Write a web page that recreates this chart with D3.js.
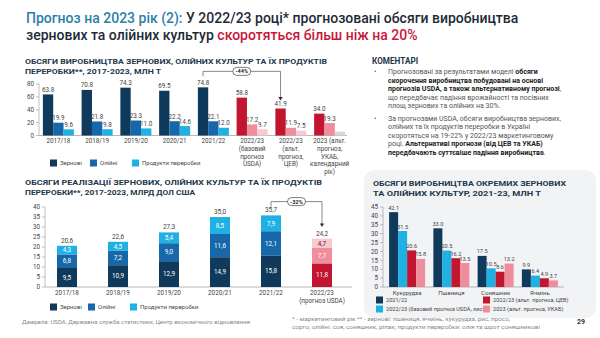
<!DOCTYPE html>
<html>
<head>
<meta charset="utf-8">
<script src="https://cdn.jsdelivr.net/npm/d3@7"></script>
<style>
  html, body { margin: 0; padding: 0; background: #fff; }
  svg { display: block; font-family: Roboto, "Noto Sans", sans-serif; }
</style>
</head>
<body>
<div id="chart"></div>
<script>
// production, mln t
const prodCats = ["2017/18", "2018/19", "2019/20", "2020/21", "2021/22", "2022/23 base", "2022/23 alt", "2023 alt"];
const prodLabels = [["2017/18"], ["2018/19"], ["2019/20"], ["2020/21"], ["2021/22"],
  ["2022/23", "(базовий", "прогноз", "USDA)"], ["2022/23", "(альт.", "прогноз,", "ЦЕВ)"],
  ["2023 (альт.", "прогноз,", "УКАБ,", "календарний", "рік)"]];
const prodGrain = [63.8, 70.8, 74.3, 69.5, 74.8, 58.8, 41.9, 34.0];
const prodOil = [19.9, 21.8, 23.3, 22.2, 22.1, 17.2, 11.9, 19.3];
const prodProc = [9.6, 9.8, 11.0, 14.6, 12.0, 9.7, 7.5, 6.0];
const prodProcShown = [true, true, true, true, true, true, true, false];
const prodTicks = [0, 20, 40, 60, 80];

// sales, bln USD
const salesCats = ["2017/18", "2018/19", "2019/20", "2020/21", "2021/22", "2022/23"];
const salesLabels = [["2017/18"], ["2018/19"], ["2019/20"], ["2020/21"], ["2021/22"], ["2022/23", "(прогноз USDA)"]];
const salesGrain = [9.5, 10.9, 12.9, 14.9, 15.8, 11.8];
const salesOil = [6.8, 7.2, 9.0, 11.6, 12.1, 7.7];
const salesProc = [4.3, 4.5, 5.4, 8.5, 7.9, 4.7];
const salesTotal = [20.6, 22.6, 27.3, 35.0, 35.7, 24.2];
const salesTicks = [0, 5, 10, 15, 20, 25, 30, 35, 40];

// individual crops, mln t
const cropCats = ["Кукурудза", "Пшениця", "Соняшник", "Ячмінь"];
const cropSeries = ["2021/22", "2022/23 (базовий прогноз USDA, лист.)", "2022/23 (альт. прогноз, ЦЕВ)", "2023 (альт. прогноз, УКАБ)"];
const crop2122 = [42.1, 33.0, 17.5, 9.9];
const cropUsda = [31.5, 20.5, 10.5, 6.4];
const cropCev = [20.6, 16.2, 8.6, 4.9];
const cropUkab = [15.8, 13.5, 13.2, 3.7];
const cropTicks = [0, 5, 10, 15, 20, 25, 30, 35, 40, 45];

const NAVY = "#0f3a5c", BLUE = "#1768aa", CYAN = "#1fb0e4";
const RED = "#c2152f", PINK = "#ef8d9c", LPINK = "#f7c9d1", GREY = "#d9d9d9";
const INK = "#23384a", TXT = "#444";

const W = 600, H = 338;
const svg = d3.select("#chart").append("svg").attr("width", W).attr("height", H);
svg.append("rect").attr("width", W).attr("height", H).attr("fill", "#fff");

// headline
const head = svg.append("text").attr("x", 26).attr("y", 23).attr("font-size", 14).attr("font-weight", 500);
head.append("tspan").attr("fill", "#2b7fa8").text("Прогноз на 2023 рік (2): ");
head.append("tspan").attr("fill", "#1e2a38").text("У 2022/23 році* прогнозовані обсяги виробництва");
const head2 = svg.append("text").attr("x", 26).attr("y", 40).attr("font-size", 14).attr("font-weight", 500);
head2.append("tspan").attr("fill", "#1e2a38").text("зернових та олійних культур ");
head2.append("tspan").attr("fill", "#c8173a").text("скоротяться більш ніж на 20%");

function blockTitle(x, y, lines, len) {
  lines.forEach((t, i) => {
    svg.append("text").attr("x", x).attr("y", y + i * 10).attr("font-size", 8).attr("font-weight", 700)
      .attr("fill", INK).attr("textLength", len[i]).attr("lengthAdjust", "spacingAndGlyphs").text(t);
  });
}

function yAxis(g, y, ticks, x) {
  g.append("line").attr("x1", x).attr("x2", x).attr("y1", y(ticks[ticks.length - 1])).attr("y2", y(0)).attr("stroke", "#999").attr("stroke-width", 0.6);
  ticks.forEach(t => {
    g.append("line").attr("x1", x - 3).attr("x2", x).attr("y1", y(t)).attr("y2", y(t)).attr("stroke", "#999").attr("stroke-width", 0.6);
    g.append("text").attr("x", x - 5).attr("y", y(t) + 2.2).attr("text-anchor", "end").attr("font-size", 6.3).attr("fill", TXT).text(t);
  });
}

function legendItem(x, y, color, label, size) {
  svg.append("rect").attr("x", x).attr("y", y - 3.5).attr("width", 7).attr("height", 7).attr("fill", color);
  svg.append("text").attr("x", x + 10).attr("y", y + 2.2).attr("font-size", size || 6).attr("fill", TXT).text(label);
}

// elbow connector with a rounded percent badge on its top run
function bracket(x1, yStart, x2, top, yArrow, label) {
  svg.append("path").attr("d", `M${x1},${yStart}V${top}H${x2}V${yArrow - 3}`).attr("fill", "none").attr("stroke", "#555").attr("stroke-width", 0.7);
  svg.append("path").attr("d", `M${x2 - 2.2},${yArrow - 3.5}L${x2 + 2.2},${yArrow - 3.5}L${x2},${yArrow}Z`).attr("fill", "#333");
  const mx = (x1 + x2) / 2;
  svg.append("rect").attr("x", mx - 9).attr("y", top - 4).attr("width", 18).attr("height", 8).attr("rx", 4)
    .attr("fill", "#fff").attr("stroke", "#444").attr("stroke-width", 0.7);
  svg.append("text").attr("x", mx).attr("y", top + 2).attr("text-anchor", "middle").attr("font-size", 5.6).attr("font-weight", 700).attr("fill", "#222").text(label);
}

// ---- production chart ----
blockTitle(25, 64, ["ОБСЯГИ ВИРОБНИЦТВА ЗЕРНОВИХ, ОЛІЙНИХ КУЛЬТУР ТА ЇХ ПРОДУКТІВ", "ПЕРЕРОБКИ**, 2017-2023, МЛН Т"], [302, 136]);
{
  const g = svg.append("g");
  const x = d3.scaleBand().domain(prodCats).range([36, 346]);
  const y = d3.scaleLinear().domain([0, 80]).range([135.5, 84]);
  const inner = d3.scaleBand().domain([0, 1, 2]).range([-15.5, 15.5]);
  const series = [prodGrain, prodOil, prodProc];
  const center = c => x(c) + x.bandwidth() / 2 + 3;
  yAxis(g, y, prodTicks, 39);
  g.append("line").attr("x1", 39).attr("x2", 347).attr("y1", y(0)).attr("y2", y(0)).attr("stroke", "#999").attr("stroke-width", 0.7);
  prodCats.forEach((c, i) => {
    const cx = center(c);
    const cols = i >= 5 ? [RED, PINK, LPINK] : [NAVY, BLUE, CYAN];
    if (i === 7) cols[2] = GREY;
    series.forEach((s, k) => {
      const bx = cx + inner(k);
      g.append("rect").attr("x", bx).attr("y", y(s[i])).attr("width", inner.bandwidth()).attr("height", y(0) - y(s[i])).attr("fill", cols[k]);
      if (k < 2 || prodProcShown[i]) {
        g.append("text").attr("x", bx + inner.bandwidth() / 2).attr("y", y(s[i]) - 2.5).attr("text-anchor", "middle")
          .attr("font-size", 6.3).attr("fill", TXT).text(s[i].toFixed(1));
      }
    });
    prodLabels[i].forEach((t, j) => {
      g.append("text").attr("x", cx).attr("y", 143 + j * 7.8).attr("text-anchor", "middle").attr("font-size", 6.3).attr("fill", TXT).text(t);
    });
  });
  const half = inner(0) + inner.bandwidth() / 2;
  const a1 = center("2021/22") + half, a2 = center("2022/23 alt") + half;
  const s1 = y(prodGrain[4]) - 11;
  bracket(a1, s1, a2, s1 - 5, y(prodGrain[6]) - 8, "-44%");
  legendItem(50, 163, NAVY, "Зернові");
  legendItem(90, 163, BLUE, "Олійні");
  legendItem(132, 163, CYAN, "Продукти переробки");
}

// ---- sales chart ----
blockTitle(25, 185, ["ОБСЯГИ РЕАЛІЗАЦІЇ ЗЕРНОВИХ, ОЛІЙНИХ КУЛЬТУР ТА ЇХ ПРОДУКТІВ", "ПЕРЕРОБКИ**, 2017-2023, МЛРД ДОЛ США"], [297, 170]);
{
  const g = svg.append("g");
  const x = d3.scaleBand().domain(salesCats).range([41.5, 347.5]);
  const y = d3.scaleLinear().domain([0, 40]).range([287, 207]);
  const bw = 20;
  yAxis(g, y, salesTicks, 45);
  g.append("line").attr("x1", 45).attr("x2", 352).attr("y1", y(0)).attr("y2", y(0)).attr("stroke", "#999").attr("stroke-width", 0.7);
  salesCats.forEach((c, i) => {
    const cx = x(c) + x.bandwidth() / 2;
    const fut = i === 5;
    const cols = fut ? [RED, PINK, LPINK] : [NAVY, BLUE, CYAN];
    let base = 0;
    [salesGrain, salesOil, salesProc].forEach((s, k) => {
      const y0 = y(base), y1 = y(base + s[i]);
      g.append("rect").attr("x", cx - bw / 2).attr("y", y1).attr("width", bw).attr("height", y0 - y1).attr("fill", cols[k]);
      g.append("text").attr("x", cx).attr("y", (y0 + y1) / 2 + 2.2).attr("text-anchor", "middle").attr("font-size", 6.3)
        .attr("fill", fut && k === 2 ? "#7a1020" : "#fff").text(s[i].toFixed(1).replace(".", ","));
      base += s[i];
    });
    g.append("text").attr("x", cx).attr("y", y(base) - 3).attr("text-anchor", "middle").attr("font-size", 6.5).attr("fill", TXT)
      .text(salesTotal[i].toFixed(1).replace(".", ","));
    salesLabels[i].forEach((t, j) => {
      g.append("text").attr("x", cx).attr("y", 295 + j * 7.5).attr("text-anchor", "middle").attr("font-size", 6.3).attr("fill", TXT).text(t);
    });
  });
  const b1 = x("2021/22") + x.bandwidth() / 2, b2 = x("2022/23") + x.bandwidth() / 2;
  const s1 = y(salesTotal[4]) - 9;
  bracket(b1, s1, b2, s1 - 5, y(salesTotal[5]) - 11.5, "-32%");
  legendItem(50, 307, NAVY, "Зернові");
  legendItem(88, 307, BLUE, "Олійні");
  legendItem(130, 307, CYAN, "Продукти переробки");
}

// ---- comments ----
svg.append("text").attr("x", 372).attr("y", 64).attr("font-size", 8.2).attr("font-weight", 700).attr("fill", INK).text("КОМЕНТАРІ");
const bullets = [
  { y: 74, lines: [
    [["Прогнозовані за результатами моделі ", 0], ["обсяги", 1]],
    [["скорочення виробництва побудовані на основі", 1]],
    [["прогнозів USDA, а також альтернативному прогнозі", 1], [",", 0]],
    [["що передбачає падіння врожайності та посівних", 0]],
    [["площ зернових та олійних на 30%.", 0]]] },
  { y: 120.5, lines: [
    [["За прогнозами USDA, обсяги виробництва зернових,", 0]],
    [["олійних та їх продуктів переробки в Україні", 0]],
    [["скоротяться на 19-22% у 2022/23 маркетинговому", 0]],
    [["році. ", 0], ["Альтернативі прогнози (від ЦЕВ та УКАБ)", 1]],
    [["передбачають суттєвіше падіння виробництва", 1], [".", 0]]] }
];
bullets.forEach(b => {
  svg.append("text").attr("x", 374).attr("y", b.y).attr("font-size", 7).attr("fill", "#555").text("•");
  b.lines.forEach((ln, i) => {
    const t = svg.append("text").attr("x", 388).attr("y", b.y + i * 8.6).attr("font-size", 7);
    ln.forEach(([s, bold]) => t.append("tspan").attr("font-weight", bold ? 700 : 400).attr("fill", bold ? "#222" : "#555").text(s));
  });
});

// ---- crops chart ----
svg.append("rect").attr("x", 364).attr("y", 170).attr("width", 232).attr("height", 148).attr("rx", 10).attr("fill", "#f2f3f5");
blockTitle(373, 185.5, ["ОБСЯГИ ВИРОБНИЦТВА ОКРЕМИХ ЗЕРНОВИХ", "ТА ОЛІЙНИХ КУЛЬТУР, 2021-23, МЛН Т"], [193, 168]);
{
  const g = svg.append("g");
  const x = d3.scaleBand().domain(cropCats).range([385, 562]);
  const y = d3.scaleLinear().domain([0, 45]).range([287, 207]);
  const inner = d3.scaleBand().domain([0, 1, 2, 3]).range([-18, 18]);
  const cols = [NAVY, CYAN, RED, PINK];
  yAxis(g, y, cropTicks, 383);
  g.append("line").attr("x1", 383).attr("x2", 564).attr("y1", y(0)).attr("y2", y(0)).attr("stroke", "#999").attr("stroke-width", 0.7);
  cropCats.forEach((c, i) => {
    const cx = x(c) + x.bandwidth() / 2;
    [crop2122, cropUsda, cropCev, cropUkab].forEach((s, k) => {
      const bx = cx + inner(k);
      g.append("rect").attr("x", bx).attr("y", y(s[i])).attr("width", inner.bandwidth()).attr("height", y(0) - y(s[i])).attr("fill", cols[k]);
      g.append("text").attr("x", bx + inner.bandwidth() / 2).attr("y", y(s[i]) - 2.5).attr("text-anchor", "middle")
        .attr("font-size", 5.6).attr("fill", TXT).text(s[i].toFixed(1));
    });
    g.append("text").attr("x", cx).attr("y", 295).attr("text-anchor", "middle").attr("font-size", 6).attr("fill", TXT).text(c);
  });
  legendItem(376, 300, cols[0], cropSeries[0], 5.6);
  legendItem(376, 309, cols[1], cropSeries[1], 5.6);
  legendItem(483, 300, cols[2], cropSeries[2], 5.6);
  legendItem(483, 309, cols[3], cropSeries[3], 5.6);
}

// ---- footer ----
svg.append("text").attr("x", 22).attr("y", 324).attr("font-size", 6).attr("fill", "#888")
  .text("Джерела: USDA, Державна служба статистики, Центр економічного відновлення");
svg.append("text").attr("x", 292).attr("y", 321).attr("font-size", 5.6).attr("fill", "#888")
  .attr("textLength", 218).attr("lengthAdjust", "spacingAndGlyphs")
  .text("* - маркетинговий рік ** - зернові: пшениця, ячмінь, кукурудза, рис, просо,");
svg.append("text").attr("x", 292).attr("y", 329).attr("font-size", 5.6).attr("fill", "#888")
  .attr("textLength", 248).attr("lengthAdjust", "spacingAndGlyphs")
  .text("сорго; олійні: соя, соняшник, ріпак; продукти переробки: олія та шрот соняшникові");
svg.append("text").attr("x", 585).attr("y", 324).attr("text-anchor", "end").attr("font-size", 7).attr("font-weight", 700).attr("fill", "#333").text("29");
</script>
</body>
</html>
